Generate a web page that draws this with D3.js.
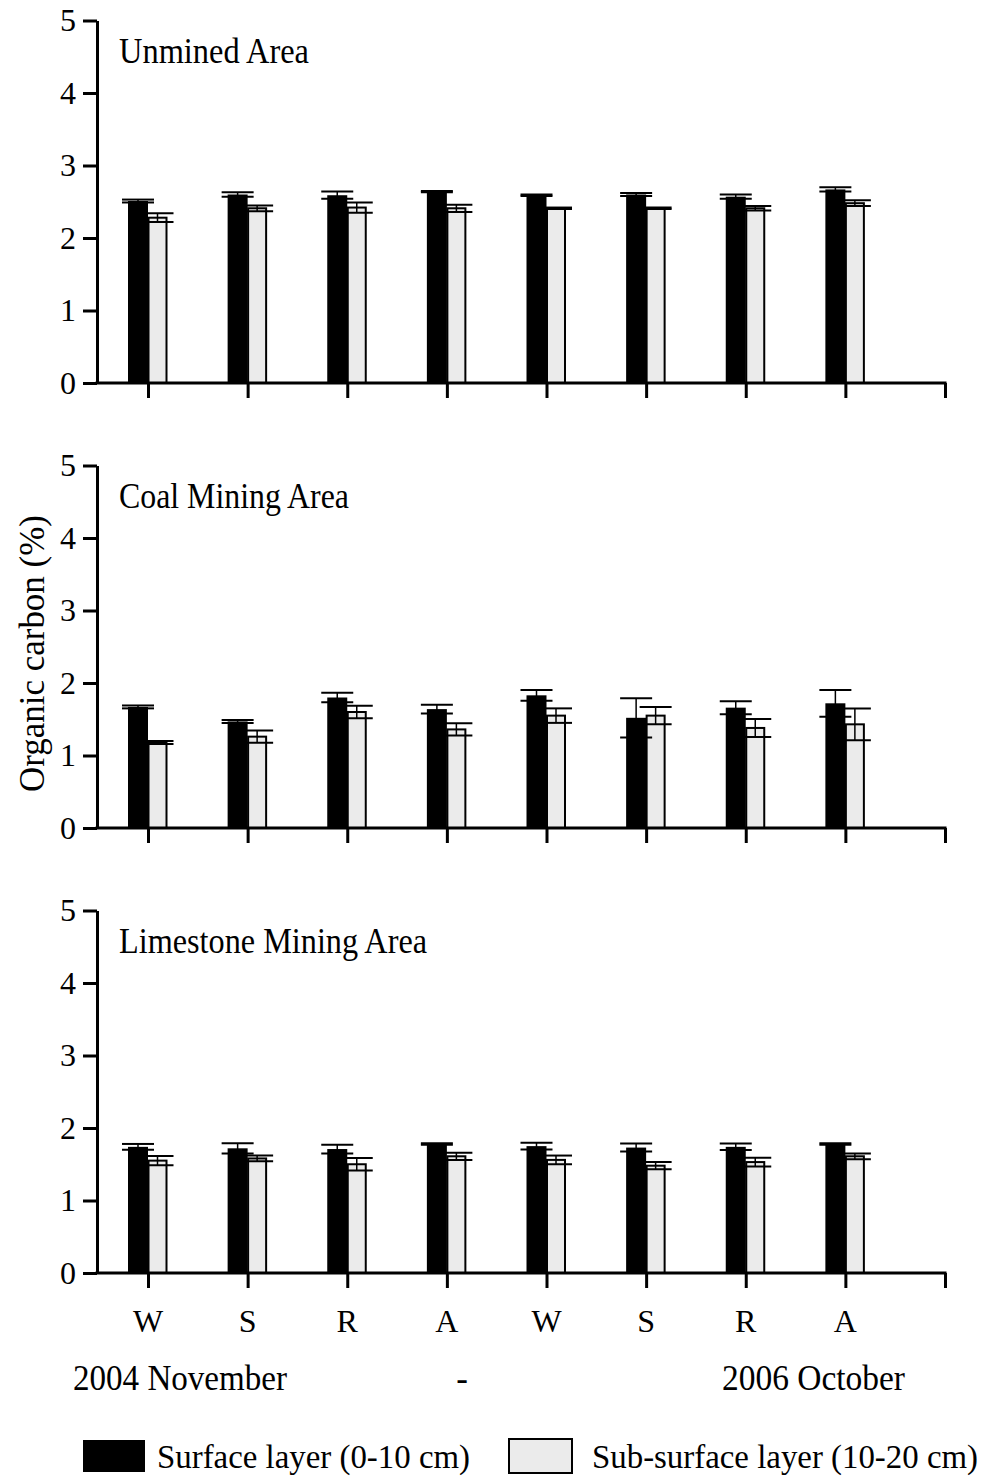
<!DOCTYPE html>
<html><head><meta charset="utf-8">
<script src="https://cdn.jsdelivr.net/npm/d3@7"></script>
<style>
html,body{margin:0;padding:0;background:#fff;}
svg{display:block;}
text{font-family:"Liberation Serif","Times New Roman",serif;fill:#000;}
</style></head>
<body>
<svg id="chart" width="999" height="1484"></svg>
<script>
const categories = ["W","S","R","A","W","S","R","A"];
const panelTitles = ["Unmined Area","Coal Mining Area","Limestone Mining Area"];
const yTicks = [0,1,2,3,4,5];

const unminedSurface = [2.51, 2.60, 2.59, 2.64, 2.59, 2.60, 2.57, 2.67];
const unminedSurfaceErr = [0.02, 0.03, 0.05, 0.01, 0.01, 0.02, 0.03, 0.03];
const unminedSub = [2.28, 2.41, 2.42, 2.41, 2.41, 2.41, 2.41, 2.48];
const unminedSubErr = [0.06, 0.04, 0.07, 0.05, 0.01, 0.01, 0.03, 0.04];

const coalSurface = [1.67, 1.47, 1.80, 1.64, 1.83, 1.52, 1.66, 1.72];
const coalSurfaceErr = [0.02, 0.02, 0.065, 0.06, 0.075, 0.27, 0.09, 0.185];
const coalSub = [1.18, 1.26, 1.60, 1.36, 1.55, 1.55, 1.38, 1.43];
const coalSubErr = [0.02, 0.085, 0.085, 0.085, 0.10, 0.12, 0.125, 0.22];

const limeSurface = [1.74, 1.72, 1.71, 1.78, 1.75, 1.73, 1.74, 1.78];
const limeSurfaceErr = [0.04, 0.07, 0.06, 0.01, 0.045, 0.055, 0.045, 0.01];
const limeSub = [1.55, 1.58, 1.50, 1.61, 1.56, 1.48, 1.53, 1.61];
const limeSubErr = [0.065, 0.04, 0.085, 0.05, 0.06, 0.05, 0.06, 0.04];

const periodLabels = ["2004 November", "-", "2006 October"];
const legendLabels = ["Surface layer (0-10 cm)", "Sub-surface layer (10-20 cm)"];
const yLabel = "Organic carbon (%)";

const panels = [
  {title: panelTitles[0], s: unminedSurface, se: unminedSurfaceErr, b: unminedSub, be: unminedSubErr},
  {title: panelTitles[1], s: coalSurface, se: coalSurfaceErr, b: coalSub, be: coalSubErr},
  {title: panelTitles[2], s: limeSurface, se: limeSurfaceErr, b: limeSub, be: limeSubErr}
];
const titleWidths = [190, 230, 308];

const svg = d3.select("#chart");
const axisX = 97, axisRight = 945;
const x = d3.scaleLinear().domain([0, 8]).range([148, 945]);
const panelTop0 = 20.5, panelH = 362.5, panelGap = 445;
const lightFill = "#ebebeb";
const bw1 = 20, bw2 = 19, capW = 32;

function condensed(sel, len) {
  return sel.attr("textLength", len).attr("lengthAdjust", "spacingAndGlyphs");
}

panels.forEach((p, pi) => {
  const top = panelTop0 + pi * panelGap;
  const y = d3.scaleLinear().domain([0, 5]).range([top + panelH, top]);
  const g = svg.append("g");

  categories.forEach((c, i) => {
    const cx = x(i);
    g.append("rect").attr("x", cx - bw1).attr("y", y(p.s[i]))
      .attr("width", bw1).attr("height", y(0) - y(p.s[i])).attr("fill", "#000");
    g.append("rect").attr("x", cx + 0.5).attr("y", y(p.b[i]))
      .attr("width", bw2 - 1).attr("height", y(0) - y(p.b[i]))
      .attr("fill", lightFill).attr("stroke", "#000").attr("stroke-width", 2);
  });
  categories.forEach((c, i) => {
    const cx = x(i);
    [[cx - bw1/2, p.s[i], p.se[i]], [cx + bw2/2, p.b[i], p.be[i]]].forEach(([ex, v, e]) => {
      g.append("line").attr("x1", ex).attr("x2", ex).attr("y1", y(v + e)).attr("y2", y(v - e))
        .attr("stroke", "#000").attr("stroke-width", 1.5);
      [v + e, v - e].forEach(t => {
        g.append("line").attr("x1", ex - capW/2).attr("x2", ex + capW/2)
          .attr("y1", y(t)).attr("y2", y(t)).attr("stroke", "#000").attr("stroke-width", 2);
      });
    });
  });

  const ya = d3.axisLeft(y).tickValues(yTicks).tickFormat(d3.format("d"))
    .tickSize(14).tickSizeOuter(0).tickPadding(7);
  const yg = g.append("g").attr("transform", `translate(${axisX},0)`).call(ya);
  yg.select(".domain").attr("stroke-width", 3);
  yg.selectAll(".tick line").attr("stroke-width", 3);
  yg.selectAll(".tick text").style("font-size", "32px").style("font-family", '"Liberation Serif",serif');

  const xa = d3.axisBottom(x).tickValues(d3.range(0, 9)).tickFormat("").tickSize(15).tickSizeOuter(0);
  const xg = g.append("g").attr("transform", `translate(0,${y(0)})`).call(xa);
  xg.select(".domain").remove();
  xg.selectAll(".tick line").attr("stroke-width", 3);
  g.append("line").attr("x1", axisX - 1.5).attr("x2", axisRight + 1.5)
    .attr("y1", y(0)).attr("y2", y(0)).attr("stroke", "#000").attr("stroke-width", 3);

  condensed(g.append("text").attr("x", 119).attr("y", top + 42.5).style("font-size", "36px"), titleWidths[pi])
    .text(p.title);

  if (pi === 2) {
    categories.forEach((c, i) => {
      g.append("text").attr("x", x(i)).attr("y", y(0) + 59).attr("text-anchor", "middle")
        .style("font-size", "32px").text(c);
    });
  }
});

condensed(svg.append("text").attr("x", 73).attr("y", 1390).style("font-size", "35px"), 214).text(periodLabels[0]);
svg.append("text").attr("x", 462).attr("y", 1390).attr("text-anchor", "middle").style("font-size", "35px").text(periodLabels[1]);
condensed(svg.append("text").attr("x", 722).attr("y", 1390).style("font-size", "35px"), 183).text(periodLabels[2]);

condensed(svg.append("text").attr("transform", "translate(44,792) rotate(-90)")
  .style("font-size", "36px"), 277).text(yLabel);

svg.append("rect").attr("x", 83).attr("y", 1440).attr("width", 62).attr("height", 32).attr("fill", "#000");
condensed(svg.append("text").attr("x", 157).attr("y", 1468).style("font-size", "34px"), 313).text(legendLabels[0]);
svg.append("rect").attr("x", 509).attr("y", 1439).attr("width", 63).attr("height", 34)
  .attr("fill", lightFill).attr("stroke", "#000").attr("stroke-width", 2);
condensed(svg.append("text").attr("x", 592).attr("y", 1468).style("font-size", "34px"), 386).text(legendLabels[1]);
</script>
</body></html>
